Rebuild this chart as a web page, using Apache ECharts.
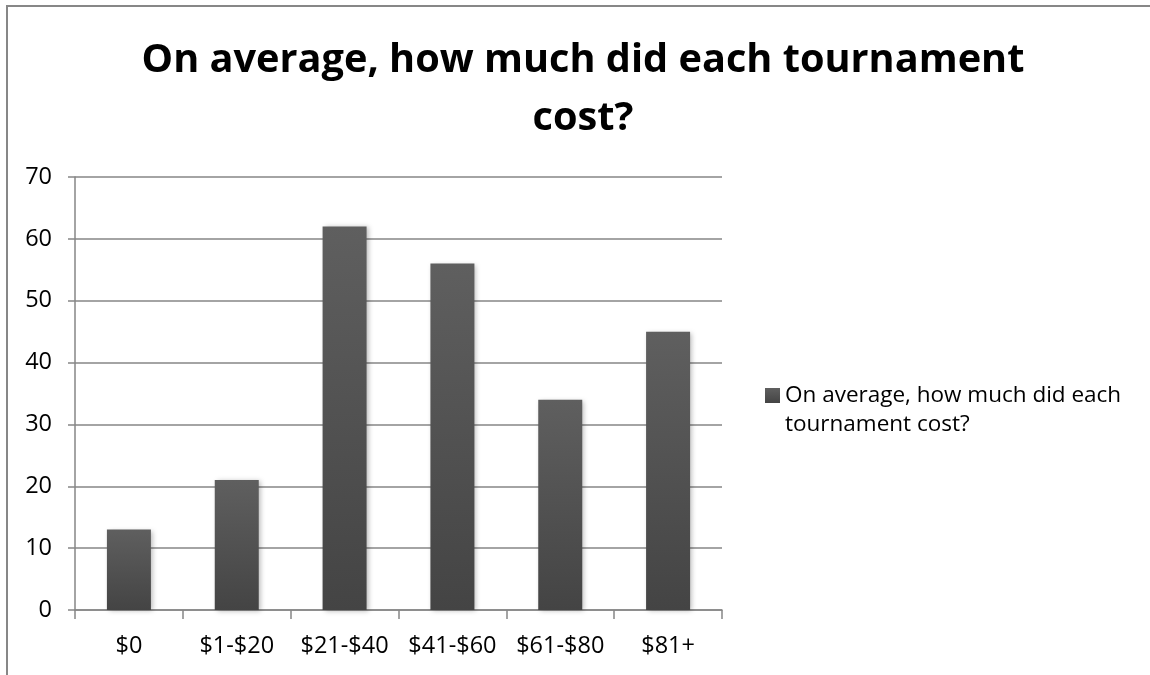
<!DOCTYPE html>
<html>
<head>
<meta charset="utf-8">
<script src="https://cdn.jsdelivr.net/npm/echarts@6/dist/echarts.min.js"></script>
<style>
  html, body { margin: 0; padding: 0; background: #fff; }
  #chart { width: 1150px; height: 675px; }
</style>
</head>
<body>
<div id="chart"></div>
<script>
// Survey results: average cost per tournament
const titleText = 'On average, how much did each tournament\ncost?';
const seriesName = 'On average, how much did each tournament cost?';
const legendLines = ['On average, how much did each', 'tournament cost?'];
const categories = ['$0', '$1-$20', '$21-$40', '$41-$60', '$61-$80', '$81+'];
const counts = [13, 21, 62, 56, 34, 45];
const yTicks = { min: 0, max: 70, interval: 10 };

const FONT = '"Open Sans", "Noto Sans", sans-serif';
const GRID_COLOR = '#868686';
const LEGEND_LINE = 29;

const chart = echarts.init(document.getElementById('chart'), null, { renderer: 'canvas' });

chart.setOption({
  backgroundColor: '#ffffff',
  animation: false,
  title: {
    text: titleText,
    left: 578,
    textAlign: 'center',
    top: 27,
    textStyle: {
      fontFamily: FONT,
      fontWeight: 'bold',
      fontSize: 39.7,
      lineHeight: 58,
      color: '#000'
    }
  },
  legend: {
    left: 765,
    top: 352,
    padding: 0,
    orient: 'vertical',
    itemWidth: 15,
    itemHeight: 15,
    itemGap: 0,
    icon: 'rect',
    // a blank leading line keeps the first text line level with the swatch
    formatter: () => ' \n' + legendLines.join('\n'),
    textStyle: {
      fontFamily: FONT,
      fontSize: 22.5,
      lineHeight: LEGEND_LINE,
      color: '#000'
    }
  },
  grid: {
    left: 75,
    right: 428,
    top: 177,
    bottom: 65,
    containLabel: false
  },
  xAxis: {
    type: 'category',
    data: categories,
    axisLine: { show: true, lineStyle: { color: GRID_COLOR, width: 1.5 } },
    axisTick: { show: true, length: 9, alignWithLabel: false, lineStyle: { color: GRID_COLOR, width: 1.5 } },
    axisLabel: {
      interval: 0,
      margin: 24,
      fontFamily: FONT,
      fontSize: 23.5,
      color: '#000'
    }
  },
  yAxis: {
    type: 'value',
    min: yTicks.min,
    max: yTicks.max,
    interval: yTicks.interval,
    axisLine: { show: true, lineStyle: { color: GRID_COLOR, width: 1.5 } },
    axisTick: { show: true, length: 7, lineStyle: { color: GRID_COLOR, width: 1.5 } },
    splitLine: { show: true, lineStyle: { color: GRID_COLOR, width: 1.5 } },
    axisLabel: {
      margin: 23,
      fontFamily: FONT,
      fontSize: 23.5,
      color: '#000'
    }
  },
  series: [{
    name: seriesName,
    type: 'bar',
    data: counts,
    barWidth: 44,
    itemStyle: {
      color: new echarts.graphic.LinearGradient(0, 0, 0, 1, [
        { offset: 0, color: '#5f5f5f' },
        { offset: 1, color: '#444444' }
      ]),
      shadowColor: 'rgba(0,0,0,0.28)',
      shadowBlur: 5,
      shadowOffsetX: 2,
      shadowOffsetY: 1
    }
  }],
  graphic: [{
    type: 'rect',
    silent: true,
    z: -1,
    shape: { x: 7, y: 6, width: 1300, height: 800 },
    style: { fill: 'none', stroke: '#878787', lineWidth: 2 }
  }]
});
</script>
</body>
</html>
